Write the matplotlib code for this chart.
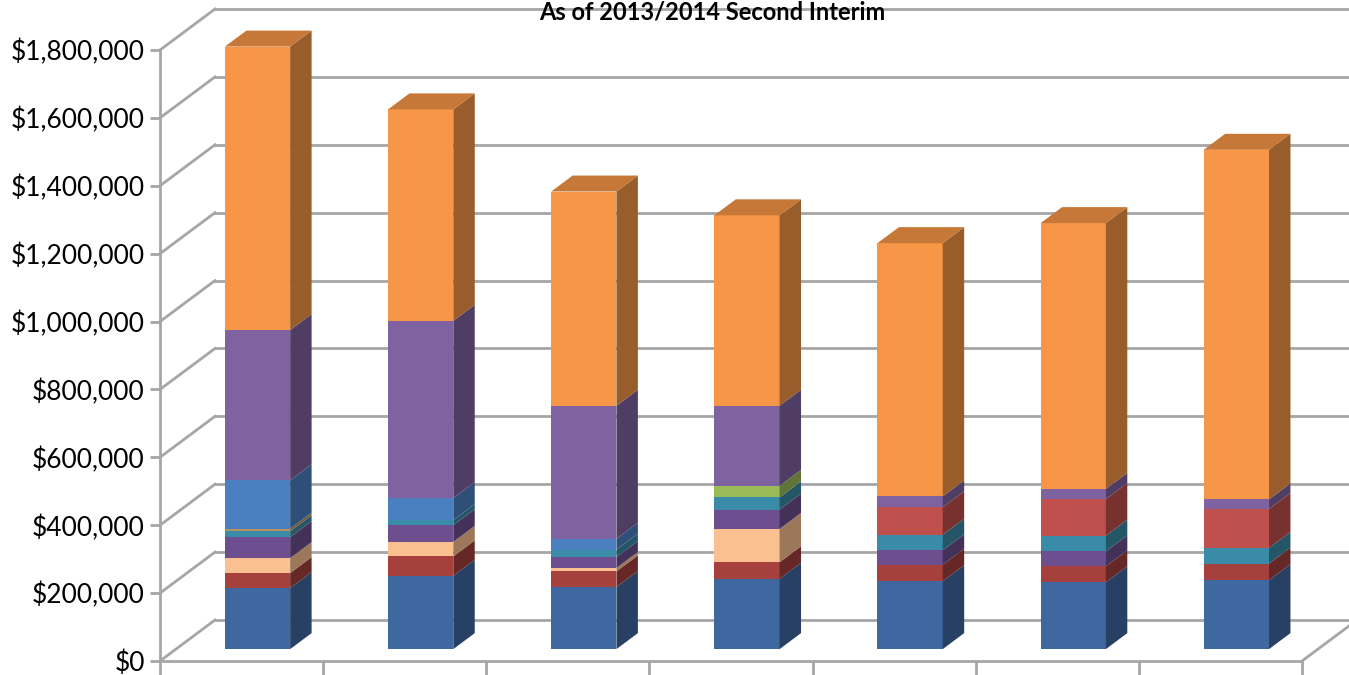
import matplotlib

matplotlib.use("Agg")
import matplotlib.pyplot as plt  # noqa: E402
from matplotlib.colors import to_rgb  # noqa: E402
from matplotlib.patches import Polygon  # noqa: E402
from matplotlib.ticker import FuncFormatter  # noqa: E402

plt.rcParams["font.family"] = ["Lato", "DejaVu Sans"]

TITLE = "As of 2013/2014 Second Interim"

# seven unlabeled bars, segments stacked bottom -> top (dollars)
n_bars = 7
base_blue = [180000, 216000, 183000, 207000, 200000, 197000, 203000]
dark_red = [44000, 57000, 46000, 49000, 49000, 47000, 49000]
peach = [44000, 43000, 10000, 98000, 0, 0, 0]
dark_purple = [62000, 49000, 32000, 57000, 42000, 44000, 0]
teal = [17000, 15000, 22000, 36000, 46000, 46000, 46000]
tan = [8000, 0, 0, 0, 0, 0, 0]
green = [0, 0, 0, 34000, 0, 0, 0]
bright_red = [0, 0, 0, 0, 81000, 108000, 115000]
light_blue = [142000, 65000, 32000, 0, 0, 0, 0]
purple = [443000, 522000, 392000, 236000, 32000, 30000, 28000]
orange = [835000, 623000, 631000, 561000, 746000, 783000, 1030000]

y_ticks = list(range(0, 1800001, 200000))

series = [
    (base_blue, "#4068A0"),
    (dark_red, "#A5403D"),
    (peach, "#FBC08F"),
    (dark_purple, "#6D4F8F"),
    (teal, "#3A8BA8"),
    (tan, "#B8925E"),
    (green, "#9BBB59"),
    (bright_red, "#C0504D"),
    (light_blue, "#4A80C0"),
    (purple, "#7F63A1"),
    (orange, "#F79646"),
]

GRID = "#A6A6A6"
W_PX, H_PX = 1349, 675

fig = plt.figure(figsize=(W_PX / 100, H_PX / 100), dpi=100)
ax = fig.add_axes([160 / W_PX, 14 / H_PX, 1142 / W_PX, 611 / H_PX])
ax.set_xlim(0, n_bars)
ax.set_ylim(0, y_ticks[-1])

# oblique depth of the 3-D box, in data units
DX = 55 / 1142 * n_bars
DY = 41 / 611 * y_ticks[-1]


def shade(c, k):
    r, g, b = to_rgb(c)
    return (r * k, g * k, b * k)


# back wall + left wall gridlines
for v in y_ticks:
    ax.plot([DX, n_bars + 2 * DX], [v + DY, v + DY], color=GRID, lw=2,
            clip_on=False, zorder=1)
    ax.plot([0, DX], [v, v + DY], color=GRID, lw=2, clip_on=False, zorder=1)
# floor right edge
ax.plot([n_bars, n_bars + DX], [0, DY], color=GRID, lw=2, clip_on=False, zorder=1)

# bars
w = 0.4
f0, f1 = 0.29, 0.68
ddx, ddy = (f1 - f0) * DX, (f1 - f0) * DY
for i in range(n_bars):
    x0 = i + 0.5 - w / 2 + f0 * DX
    bottom = 0
    segs = [(vals[i], col) for vals, col in series if vals[i] > 0]
    for j, (h, col) in enumerate(segs):
        b, t = bottom + f0 * DY, bottom + h + f0 * DY
        z = 3 + i
        ax.add_patch(Polygon([(x0, b), (x0 + w, b), (x0 + w, t), (x0, t)],
                             closed=True, fc=col, ec="none", zorder=z,
                             clip_on=False))
        ax.add_patch(Polygon([(x0 + w, b), (x0 + w + ddx, b + ddy),
                              (x0 + w + ddx, t + ddy), (x0 + w, t)],
                             closed=True, fc=shade(col, 0.62), ec="none",
                             zorder=z, clip_on=False))
        if j == len(segs) - 1:
            ax.add_patch(Polygon([(x0, t), (x0 + w, t), (x0 + w + ddx, t + ddy),
                                  (x0 + ddx, t + ddy)],
                                 closed=True, fc=shade(col, 0.8), ec="none",
                                 zorder=z, clip_on=False))
        bottom += h

for s in ("top", "right"):
    ax.spines[s].set_visible(False)
for s in ("left", "bottom"):
    ax.spines[s].set_color(GRID)
    ax.spines[s].set_linewidth(2)
ax.patch.set_alpha(0)

ax.set_yticks(y_ticks)
ax.yaxis.set_major_formatter(FuncFormatter(lambda v, _: f"${v:,.0f}"))
ax.set_xticks(range(n_bars + 1))
ax.set_xticklabels([])
ax.tick_params(axis="y", length=7, width=2, color=GRID, labelsize=19, pad=4)
ax.tick_params(axis="x", length=10, width=2, color=GRID)

fig.text(712 / W_PX, 1 - 1 / H_PX, TITLE, ha="center", va="top",
         fontsize=17, fontweight="bold")

fig.savefig("out.png", dpi=100)
plt.close(fig)
